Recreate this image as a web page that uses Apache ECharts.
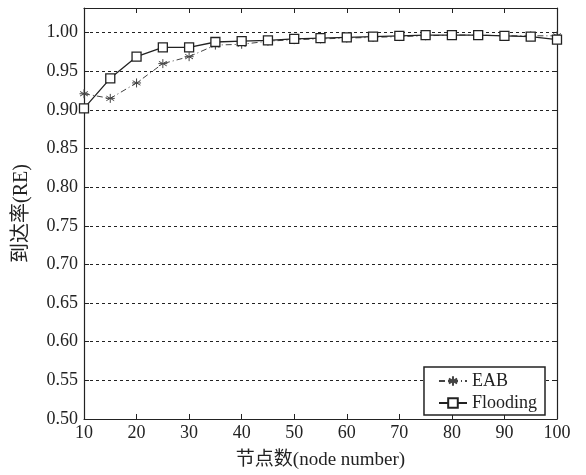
<!DOCTYPE html>
<html><head><meta charset="utf-8">
<script src="https://cdn.jsdelivr.net/npm/echarts@6/dist/echarts.min.js"></script>
<style>html,body{margin:0;padding:0;background:#fff}#c{width:586px;height:475px}</style>
</head><body><div id="c"></div>
<script>
const nodes = [10,15,20,25,30,35,40,45,50,55,60,65,70,75,80,85,90,95,100];
const eab = [0.921,0.915,0.935,0.960,0.969,0.984,0.985,0.989,0.991,0.992,0.993,0.994,0.995,0.996,0.997,0.997,0.996,0.996,0.996];
const flooding = [0.902,0.941,0.969,0.981,0.981,0.988,0.989,0.990,0.992,0.993,0.994,0.995,0.996,0.997,0.997,0.997,0.996,0.995,0.991];
const xTicks = [10,20,30,40,50,60,70,80,90,100];
const yTicks = [0.50,0.55,0.60,0.65,0.70,0.75,0.80,0.85,0.90,0.95,1.00];
const seriesNames = ['EAB','Flooding'];

const FONT = '"Liberation Serif","Noto Sans CJK SC",serif';
const INK = '#222';
const chart = echarts.init(document.getElementById('c'));
const star = 'path://M0,-5L0,5M-4.33,-2.5L4.33,2.5M-4.33,2.5L4.33,-2.5M-5,0L5,0';
chart.setOption({
  backgroundColor:'#fff',
  animation:false,
  grid:{left:84,right:29,top:8,bottom:51},
  legend:{
    right:41, bottom:60, orient:'vertical',
    backgroundColor:'#fff', borderColor:INK, borderWidth:1.5, borderRadius:0,
    padding:[5,8,3,14], itemGap:4, itemWidth:28, itemHeight:12,
    textStyle:{fontFamily:FONT,fontSize:18,color:INK},
    data:seriesNames
  },
  xAxis:[{
    type:'value', min:xTicks[0], max:xTicks[xTicks.length-1], interval:10,
    name:'节点数(node number)', nameLocation:'middle', nameGap:32,
    nameTextStyle:{fontFamily:FONT,fontSize:19,color:INK},
    axisLine:{lineStyle:{color:INK,width:1.2}},
    axisTick:{inside:true,length:5,lineStyle:{color:INK}},
    axisLabel:{fontFamily:FONT,fontSize:18,color:INK,margin:5},
    splitLine:{show:false}
  },{
    type:'value', position:'top', min:xTicks[0], max:xTicks[xTicks.length-1], interval:10,
    axisLine:{lineStyle:{color:INK,width:1.2}},
    axisTick:{inside:true,length:5,lineStyle:{color:INK}},
    axisLabel:{show:false}, splitLine:{show:false}
  }],
  yAxis:[{
    type:'value', min:yTicks[0], max:1.032, interval:0.05,
    name:'到达率(RE)', nameLocation:'middle', nameGap:52, nameRotate:90,
    nameTextStyle:{fontFamily:FONT,fontSize:20,color:INK},
    axisLine:{lineStyle:{color:INK,width:1.2}},
    axisTick:{inside:true,length:5,lineStyle:{color:INK}},
    axisLabel:{fontFamily:FONT,fontSize:18,color:INK,margin:6,showMaxLabel:false,
      formatter:v=>yTicks.some(t=>Math.abs(t-v)<1e-6)?v.toFixed(2):''},
    splitLine:{show:true,lineStyle:{color:INK,type:[3,3],width:1}}
  },{
    type:'value', position:'right', min:yTicks[0], max:1.032, interval:0.05,
    axisLine:{lineStyle:{color:INK,width:1.2}},
    axisTick:{inside:true,length:5,lineStyle:{color:INK}},
    axisLabel:{show:false}, splitLine:{show:false}
  }],
  series:[{
    name:seriesNames[0], type:'line', xAxisIndex:0, yAxisIndex:0,
    data:nodes.map((x,i)=>[x,eab[i]]),
    symbol:star, symbolSize:9,
    lineStyle:{color:'#444',width:1,type:[6,3,1,3]},
    itemStyle:{color:'#444',borderColor:'#444',borderWidth:1}
  },{
    name:seriesNames[1], type:'line', xAxisIndex:0, yAxisIndex:0,
    data:nodes.map((x,i)=>[x,flooding[i]]),
    symbol:'rect', symbolSize:9,
    lineStyle:{color:INK,width:1.3},
    itemStyle:{color:'#fff',borderColor:INK,borderWidth:1.3}
  }]
});
</script></body></html>
